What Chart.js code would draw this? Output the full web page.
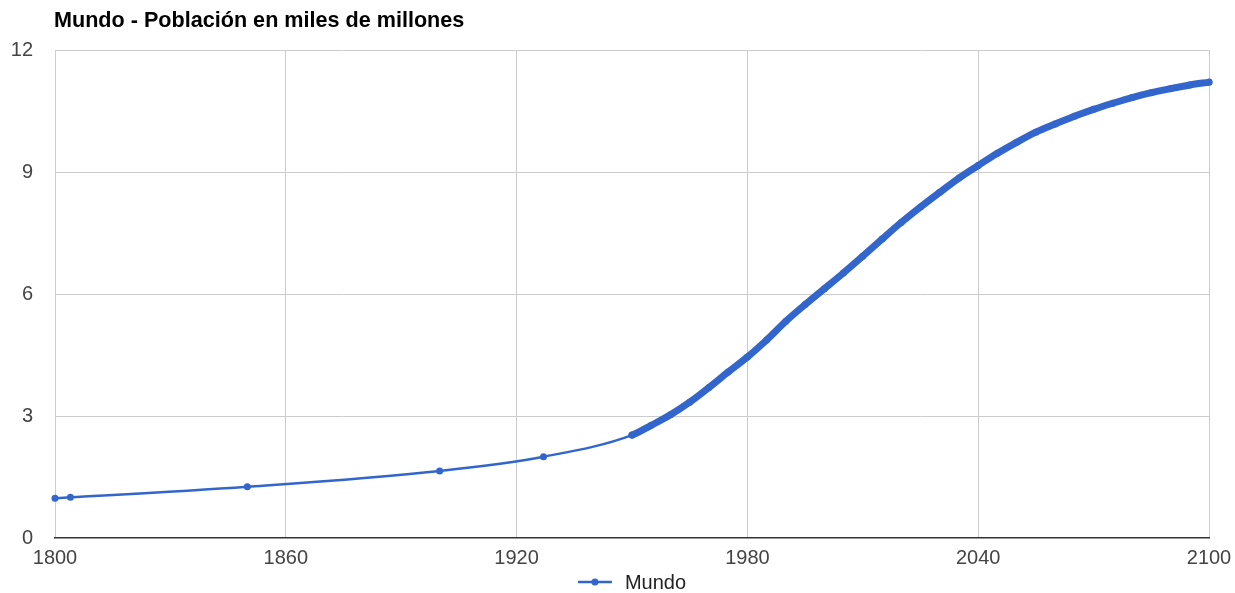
<!DOCTYPE html>
<html>
<head>
<meta charset="utf-8">
<script src="https://cdn.jsdelivr.net/npm/chart.js@4.4.1/dist/chart.umd.min.js"></script>
<style>
  html, body { margin: 0; padding: 0; background: #fff; }
  #wrap { width: 1235px; height: 593px; position: relative; }
</style>
</head>
<body>
<div id="wrap"><canvas id="c" width="1235" height="593"></canvas></div>
<script>
const chartTitle = 'Mundo - Población en miles de millones';
const seriesName = 'Mundo';
const years = [1800, 1804, 1850, 1900, 1927, 1950, 1955, 1960, 1965, 1970, 1975, 1980, 1985, 1990, 1995, 2000, 2005, 2010, 2015, 2020, 2025, 2030, 2035, 2040, 2045, 2050, 2055, 2060, 2065, 2070, 2075, 2080, 2085, 2090, 2095, 2100];
const population = [0.98, 1.0, 1.26, 1.65, 2.0, 2.53, 2.77, 3.03, 3.34, 3.70, 4.08, 4.45, 4.87, 5.33, 5.74, 6.13, 6.52, 6.93, 7.35, 7.76, 8.14, 8.50, 8.85, 9.16, 9.46, 9.73, 9.98, 10.18, 10.37, 10.54, 10.69, 10.83, 10.95, 11.05, 11.14, 11.21];
const xTickLabels = ['1800', '1860', '1920', '1980', '2040', '2100'];
const yTickLabels = ['0', '3', '6', '9', '12'];

const blue = '#3366CC';
const font = "'Liberation Sans', Arial, sans-serif";

const titlePlugin = {
  id: 'customTitleLegend',
  afterDraw(chart) {
    const ctx = chart.ctx;
    const area = chart.chartArea;
    ctx.save();
    ctx.fillStyle = '#000';
    ctx.font = 'bold 21.6px ' + font;
    ctx.textBaseline = 'alphabetic';
    ctx.textAlign = 'left';
    ctx.fillText(chartTitle, area.left - 1, 27);
    // legend
    ctx.font = '20px ' + font;
    const textW = ctx.measureText(seriesName).width;
    const lineW = 34, gap = 13;
    const total = lineW + gap + textW;
    const cx = (area.left + area.right) / 2;
    const x0 = cx - total / 2;
    const ly = 582;
    ctx.strokeStyle = blue;
    ctx.lineWidth = 2.5;
    ctx.beginPath();
    ctx.moveTo(x0, ly);
    ctx.lineTo(x0 + lineW, ly);
    ctx.stroke();
    ctx.fillStyle = blue;
    ctx.beginPath();
    ctx.arc(x0 + lineW / 2, ly, 3.5, 0, Math.PI * 2);
    ctx.fill();
    ctx.fillStyle = '#222';
    ctx.textBaseline = 'middle';
    ctx.fillText(seriesName, x0 + lineW + gap, ly + 1);
    ctx.restore();
  }
};

new Chart(document.getElementById('c'), {
  type: 'line',
  data: {
    datasets: [{
      label: seriesName,
      data: years.map((y, i) => ({ x: y, y: population[i] })),
      borderColor: blue,
      backgroundColor: blue,
      borderWidth: 2.5,
      pointRadius: 3.5,
      pointBorderWidth: 0,
      pointBackgroundColor: blue,
      cubicInterpolationMode: 'monotone',
      borderCapStyle: 'round',
      borderJoinStyle: 'round',
      clip: false,
      segment: {
        borderWidth: ctx => ctx.p0.parsed.x >= 1950 ? 7 : 2.5
      }
    }]
  },
  options: {
    responsive: false,
    animation: false,
    events: [],
    layout: { padding: { top: 50, left: 0, right: 26, bottom: 0 } },
    plugins: {
      legend: { display: false },
      title: { display: false },
      tooltip: { enabled: false }
    },
    scales: {
      x: {
        type: 'linear',
        min: 1800, max: 2100,
        afterBuildTicks: s => { s.ticks = xTickLabels.map(v => ({ value: Number(v) })); },
        afterFit: s => { s.height = 55; s.paddingLeft = 0; s.paddingRight = 0; },
        ticks: {
          padding: 8,
          color: '#444',
          font: { family: font, size: 20 },
          maxRotation: 0,
          autoSkip: false,
          callback: v => String(v)
        },
        grid: { color: '#cccccc', lineWidth: 1, drawTicks: false },
        border: { color: '#333333', width: 1.5 }
      },
      y: {
        min: 0, max: 12,
        afterBuildTicks: s => { s.ticks = yTickLabels.map(v => ({ value: Number(v) })); },
        afterFit: s => { s.width = 55; s.paddingTop = 0; s.paddingBottom = 0; },
        ticks: {
          padding: 22,
          color: '#444',
          font: { family: font, size: 20 },
          callback: v => String(v)
        },
        grid: {
          color: ctx => (ctx.tick && ctx.tick.value === 0) ? 'rgba(0,0,0,0)' : '#cccccc',
          lineWidth: 1, drawTicks: false
        },
        border: { display: false }
      }
    }
  },
  plugins: [titlePlugin]
});
</script>
</body>
</html>
